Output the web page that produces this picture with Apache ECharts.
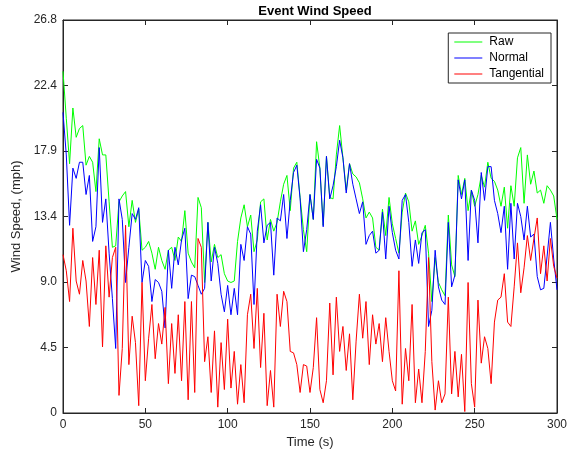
<!DOCTYPE html>
<html>
<head>
<meta charset="utf-8">
<script src="https://cdn.jsdelivr.net/npm/echarts@6/dist/echarts.min.js"></script>
<style>
html,body{margin:0;padding:0;background:#fff;}
#chart{width:573px;height:456px;}
</style>
</head>
<body>
<div id="chart"></div>
<script>
// time in seconds, sampled every 2 s
var time = [];
for (var i = 0; i <= 150; i++) time.push(i * 2);

var rawSpeed = [
23.3,20.1,17.0,20.8,18.8,19.4,19.6,16.9,17.5,17.1,
15.1,18.7,17.6,17.6,14.4,11.3,11.4,14.4,14.8,15.1,
12.7,14.5,13.0,13.9,11.1,11.3,11.7,10.9,9.8,11.3,
10.4,9.8,11.1,11.3,10.4,12.0,11.7,13.8,10.9,10.3,
9.9,14.7,14.0,8.9,13.0,10.3,11.5,10.6,10.8,9.5,
9.0,8.9,9.0,11.7,13.3,14.2,12.7,13.5,11.0,11.8,
14.4,14.6,11.8,13.2,12.4,13.0,14.4,15.6,16.2,13.8,
16.7,17.1,14.7,12.5,11.0,14.9,13.2,18.5,16.7,12.8,
17.5,14.7,14.6,17.6,19.6,17.4,15.2,17.0,16.3,16.1,
15.7,14.6,13.3,13.7,13.3,11.3,11.1,13.9,12.1,14.7,
12.9,11.9,10.9,13.7,15.0,14.4,12.4,13.1,11.5,12.1,
12.8,10.9,7.6,10.6,8.9,8.4,8.0,13.5,10.1,9.3,
16.2,14.9,16.0,13.8,15.2,14.1,14.9,16.2,15.4,17.1,
16.0,15.8,15.2,14.1,15.4,12.6,15.5,14.1,17.4,18.1,
14.3,17.6,15.6,16.5,15.0,15.2,14.3,15.5,15.2,14.8,
13.2
];

var normalSpeed = [
20.5,17.6,12.8,16.7,16.0,17.1,17.1,14.9,16.2,11.7,
12.7,18.1,13.0,14.6,10.9,7.8,4.4,14.6,13.2,8.9,
11.3,13.6,13.2,14.0,8.9,10.4,10.0,7.6,9.1,8.9,
8.3,5.8,11.1,8.5,11.3,10.1,11.8,12.6,7.8,9.4,
9.3,8.7,8.1,8.5,13.0,9.0,11.3,10.2,8.1,6.9,
8.7,6.7,8.5,6.7,11.5,10.4,12.7,12.2,7.4,12.4,
14.2,11.6,12.8,13.0,9.4,13.3,13.1,14.9,11.9,14.5,
16.4,16.9,14.6,11.0,12.5,14.9,13.2,17.3,16.7,12.7,
17.5,14.6,15.5,16.8,18.6,17.4,15.0,17.0,15.6,14.6,
13.6,14.4,11.5,12.1,12.4,10.9,11.1,13.7,10.5,14.1,
12.3,11.1,10.5,14.5,14.9,13.0,10.0,11.8,10.2,12.3,
12.5,5.9,7.0,11.1,8.6,7.7,7.4,13.0,8.6,9.4,
15.9,14.6,15.9,10.4,15.2,14.5,11.6,16.4,14.5,16.8,
16.8,14.5,13.6,12.3,14.1,9.8,14.3,10.5,14.3,13.4,
11.8,14.1,12.0,12.2,9.3,8.4,8.5,10.7,13.0,10.5,
8.4
];

var tangentialSpeed = [
10.8,9.7,7.6,12.6,9.0,8.1,10.4,9.0,5.9,10.6,
7.4,11.1,4.5,11.4,7.9,10.6,11.3,1.2,4.4,12.8,
3.3,6.6,4.8,0.5,8.9,2.2,5.1,7.4,3.7,6.1,
4.7,7.2,2.0,6.1,2.7,6.7,2.2,7.6,0.9,7.6,
1.4,11.9,11.3,3.5,5.2,1.4,5.6,0.4,4.8,1.6,
6.4,1.7,4.2,0.6,3.3,0.7,6.7,8.1,4.4,8.5,
3.1,6.8,0.5,2.9,0.4,8.1,5.9,8.3,7.6,4.2,
4.1,3.3,1.4,3.3,3.2,1.4,3.1,6.5,1.6,0.7,
2.2,7.5,2.6,7.9,4.2,5.9,2.9,5.4,0.9,4.9,
8.1,5.1,7.6,3.3,6.7,4.7,6.1,3.5,6.5,4.2,
2.2,1.5,9.7,0.6,4.4,2.2,7.4,0.7,3.0,0.7,
4.2,10.6,3.5,0.2,2.2,0.7,1.3,7.9,1.3,4.2,
1.1,4.0,0.1,8.9,2.0,0.4,7.7,3.4,5.2,4.4,
2.0,6.2,7.7,7.9,9.5,6.2,5.9,8.6,11.6,8.2,
9.9,12.1,10.4,11.9,13.3,9.5,11.4,9.0,11.9,10.0,
9.2
];

var xTicks = [0, 50, 100, 150, 200, 250, 300];
var yTickLabels = ['0', '4.5', '9.0', '13.4', '17.9', '22.4', '26.8'];
var yMax = 26.8;
var yStep = yMax / 6;

function pairs(vals) {
  return vals.map(function (v, i) { return [time[i], v]; });
}

var axisColor = '#262626';
var fontFam = '"Liberation Sans", Arial, Helvetica, sans-serif';

function tickAxis(extra) {
  var base = {
    axisLine: {show: true, onZero: false, lineStyle: {color: axisColor, width: 1}},
    axisTick: {show: true, inside: true, length: 5, lineStyle: {color: axisColor, width: 1}},
    splitLine: {show: false}
  };
  for (var k in extra) base[k] = extra[k];
  return base;
}

var chart = echarts.init(document.getElementById('chart'), null, {renderer: 'canvas'});
chart.setOption({
  animation: false,
  backgroundColor: '#ffffff',
  title: {
    text: 'Event Wind Speed',
    left: 310, top: 0, textAlign: 'center',
    textStyle: {fontFamily: fontFam, fontSize: 13, fontWeight: 'bold', color: '#000'}
  },
  grid: {left: 63, right: 16, top: 20, bottom: 43, containLabel: false,
         show: true, borderColor: axisColor, borderWidth: 1, backgroundColor: 'transparent'},
  legend: {
    orient: 'vertical', right: 22, top: 33,
    icon: 'rect', itemWidth: 28, itemHeight: 1, itemGap: 4,
    borderColor: axisColor, borderWidth: 1, backgroundColor: '#fff',
    padding: [3, 7, 3, 6],
    textStyle: {fontFamily: fontFam, fontSize: 12, color: '#000', padding: [0, 0, 0, 2]},
    data: ['Raw', 'Normal', 'Tangential']
  },
  xAxis: [tickAxis({
    type: 'value', min: 0, max: 300, interval: 50, position: 'bottom',
    name: 'Time (s)', nameLocation: 'middle', nameGap: 21,
    nameTextStyle: {fontFamily: fontFam, fontSize: 13, color: axisColor},
    axisLabel: {fontFamily: fontFam, fontSize: 12, color: axisColor, margin: 6}
  }), tickAxis({
    type: 'value', min: 0, max: 300, interval: 50, position: 'top',
    axisLabel: {show: false}
  })],
  yAxis: [tickAxis({
    type: 'value', min: 0, max: yMax, interval: yStep, position: 'left',
    name: 'Wind Speed, (mph)', nameLocation: 'middle', nameGap: 37,
    nameTextStyle: {fontFamily: fontFam, fontSize: 13, color: axisColor},
    axisLabel: {
      fontFamily: fontFam, fontSize: 12, color: axisColor, margin: 6,
      formatter: function (v) { return yTickLabels[Math.round(v / yStep)]; }
    }
  }), tickAxis({
    type: 'value', min: 0, max: yMax, interval: yStep, position: 'right',
    axisLabel: {show: false}
  })],
  series: [
    {name: 'Raw', type: 'line', data: pairs(rawSpeed), symbol: 'none',
     lineStyle: {color: '#00ff00', width: 1}, itemStyle: {color: '#00ff00'}},
    {name: 'Normal', type: 'line', data: pairs(normalSpeed), symbol: 'none',
     lineStyle: {color: '#0000ff', width: 1}, itemStyle: {color: '#0000ff'}},
    {name: 'Tangential', type: 'line', data: pairs(tangentialSpeed), symbol: 'none',
     lineStyle: {color: '#ff0000', width: 1}, itemStyle: {color: '#ff0000'}},
    {name: 'frame', type: 'line', xAxisIndex: 1, yAxisIndex: 1, data: [], symbol: 'none', silent: true}
  ]
});
</script>
</body>
</html>
